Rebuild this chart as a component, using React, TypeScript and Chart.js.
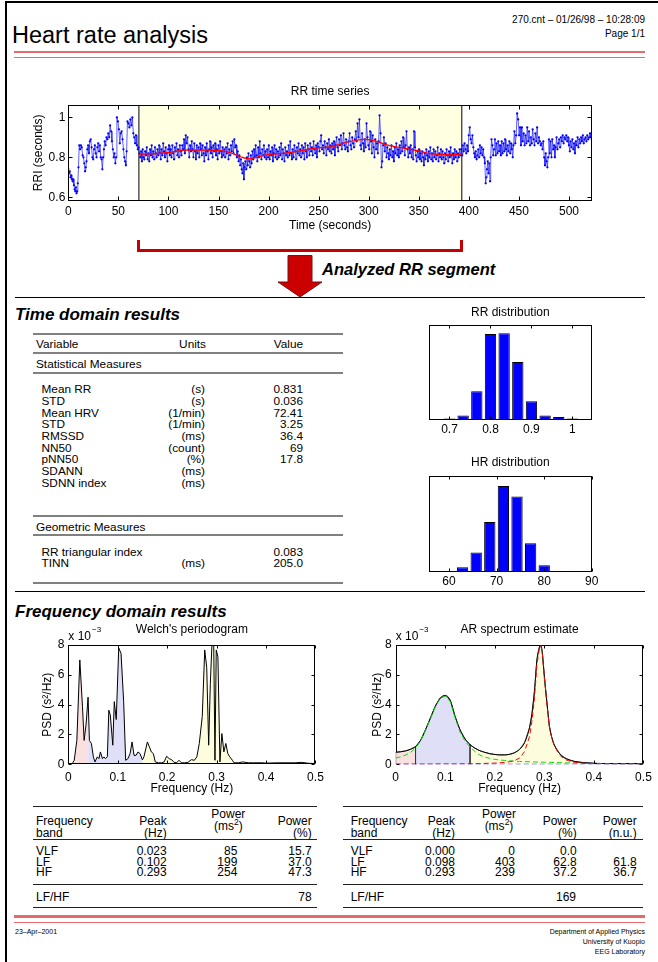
import React, { useEffect, useRef } from "react";
import { Chart, registerables } from "chart.js";
Chart.register(...registerables);

const FONT = "'Liberation Sans', Arial, Helvetica, sans-serif";
const PAGE_W = 658;
const PAGE_H = 962;

// ---------------- RR time series (RR intervals in seconds, time = cumulative sum) ----------------
const rrIntervals: number[] = [
  0.74, 0.72, 0.73, 0.70, 0.71, 0.69, 0.68, 0.69, 0.66, 0.64, 0.63, 0.65, 0.62, 0.63, 0.67,
  0.75, 0.86, 0.84, 0.86, 0.85, 0.81, 0.80, 0.77, 0.73, 0.75,
  0.78, 0.84, 0.86, 0.82, 0.88, 0.89, 0.85, 0.80, 0.79, 0.84,
  0.86, 0.82, 0.80, 0.85, 0.87, 0.83, 0.86, 0.80, 0.79, 0.74,
  0.80, 0.84, 0.88, 0.86, 0.90, 0.89, 0.92, 0.90, 0.96, 0.93,
  0.88, 0.84, 0.80, 0.82, 0.77, 0.80, 1.00, 0.98, 0.94, 0.87,
  0.92, 0.93, 0.89, 0.84, 0.80, 0.78, 0.76, 0.83, 0.98, 0.97,
  0.95, 0.99, 0.96, 1.00, 0.92, 0.90, 0.87, 0.91, 0.86, 0.84,
  // analysed segment
  0.85, 0.82, 0.80, 0.83, 0.78, 0.84, 0.80, 0.79, 0.83, 0.81, 0.85, 0.79, 0.82,
  0.78, 0.84, 0.81, 0.86, 0.80, 0.83, 0.79, 0.85, 0.82, 0.80, 0.84, 0.81, 0.86,
  0.82, 0.79, 0.84, 0.81, 0.87, 0.83, 0.80, 0.85, 0.82, 0.78, 0.84, 0.86, 0.81,
  0.84, 0.80, 0.86, 0.82, 0.79, 0.85, 0.83, 0.87, 0.81, 0.84, 0.80, 0.86, 0.83,
  0.81, 0.86, 0.84, 0.89, 0.82, 0.91, 0.87, 0.90, 0.84, 0.80, 0.86, 0.83, 0.88,
  0.84, 0.80, 0.87, 0.83, 0.79, 0.86, 0.82, 0.85, 0.80, 0.87, 0.84, 0.81, 0.86,
  0.82, 0.78, 0.85, 0.81, 0.87, 0.83, 0.79, 0.84, 0.88, 0.82, 0.85, 0.80, 0.86,
  0.83, 0.87, 0.81, 0.84, 0.79, 0.86, 0.82, 0.88, 0.83, 0.80, 0.85, 0.81, 0.84,
  0.80, 0.85, 0.82, 0.87, 0.79, 0.84, 0.81, 0.86, 0.83, 0.88, 0.82, 0.89, 0.85,
  0.86, 0.80, 0.83, 0.78, 0.81, 0.76, 0.79, 0.74, 0.72, 0.77, 0.69, 0.75, 0.78,
  0.74, 0.80, 0.76, 0.82, 0.78, 0.75, 0.81, 0.77, 0.83, 0.79, 0.84, 0.80, 0.86,
  0.81, 0.78, 0.85, 0.80, 0.88, 0.82, 0.79, 0.84, 0.81, 0.86, 0.80, 0.83, 0.79,
  0.84, 0.80, 0.86, 0.79, 0.83, 0.81, 0.85, 0.78, 0.82, 0.86, 0.80, 0.84, 0.79,
  0.83, 0.80, 0.85, 0.81, 0.87, 0.79, 0.84, 0.82, 0.78, 0.85, 0.81, 0.83, 0.80,
  0.86, 0.81, 0.88, 0.82, 0.79, 0.84, 0.80, 0.86, 0.83, 0.79, 0.85, 0.82, 0.87,
  0.81, 0.84, 0.80, 0.86, 0.82, 0.85, 0.79, 0.87, 0.83, 0.80, 0.86, 0.84, 0.81,
  0.87, 0.83, 0.85, 0.81, 0.88, 0.84, 0.82, 0.86, 0.80, 0.87, 0.85, 0.83, 0.88,
  0.91, 0.84, 0.86, 0.82, 0.88, 0.85, 0.81, 0.87, 0.84, 0.89, 0.83, 0.86, 0.82,
  0.87, 0.84, 0.88, 0.81, 0.86, 0.90, 0.85, 0.83, 0.89, 0.86, 0.91, 0.84, 0.87,
  0.92, 0.86, 0.84, 0.89, 0.85, 0.83, 0.88, 0.92, 0.86, 0.84, 0.90, 0.87, 0.85,
  0.89, 0.93, 0.88, 0.97, 0.90, 0.99, 0.86, 0.84, 0.92, 0.87, 0.83, 0.89, 0.85,
  0.97, 0.90, 0.86, 0.84, 0.93, 0.88, 0.82, 0.91, 0.85, 0.80, 0.89, 0.84, 0.87,
  0.82, 0.88, 1.01, 0.92, 0.75, 0.78, 0.86, 0.90, 0.83, 0.87, 0.80, 0.85, 0.82,
  0.79, 0.84, 0.81, 0.86, 0.80, 0.83, 0.78, 0.85, 0.82, 0.87, 0.81, 0.84, 0.80,
  0.86, 0.82, 0.88, 0.83, 0.90, 0.85, 0.81, 0.86, 0.93, 0.84, 0.80, 0.85, 0.82,
  0.86, 0.80, 0.84, 0.79, 0.93, 0.85, 0.81, 0.78, 0.83, 0.80, 0.84, 0.79, 0.82,
  0.78, 0.83, 0.80, 0.76, 0.82, 0.79, 0.84, 0.81, 0.78, 0.83, 0.80, 0.85, 0.79,
  0.82, 0.78, 0.84, 0.80, 0.83, 0.79, 0.81, 0.85, 0.78, 0.82, 0.80, 0.84, 0.79,
  0.83, 0.80, 0.77, 0.82, 0.79, 0.84, 0.81, 0.78, 0.83, 0.80, 0.85, 0.81, 0.77,
  0.82, 0.79, 0.84, 0.80, 0.83, 0.78, 0.82, 0.80, 0.84, 0.81,
  // after the segment
  0.84, 0.81, 0.86, 0.83, 0.87, 0.84, 0.82, 0.86, 0.83, 0.91, 0.95, 0.89, 0.87,
  0.91, 0.85, 0.82, 0.80, 0.83, 0.79, 0.81, 0.84, 0.80, 0.86, 0.82, 0.85, 0.81, 0.84, 0.80, 0.77, 0.67, 0.70, 0.74,
  0.78, 0.72, 0.77, 0.68, 0.80, 0.89, 0.86, 0.81, 0.84, 0.89, 0.81, 0.87, 0.82, 0.88, 0.83, 0.86, 0.81,
  0.88, 0.82, 0.87, 0.83, 0.89, 0.84, 0.81, 0.86, 0.83, 0.88, 0.82, 0.87, 0.84, 0.80, 0.86, 0.93, 0.87, 0.91, 1.02, 0.99, 0.91, 0.95, 0.86,
  0.95, 0.88, 0.92, 0.86, 0.91, 0.87, 0.95, 0.88, 0.93, 0.86, 0.90, 0.87, 0.94, 0.89, 0.86, 0.92, 0.88, 0.95, 0.87, 0.90, 0.88, 0.86,
  0.87, 0.84, 0.88, 0.80, 0.76, 0.82, 0.78, 0.75, 0.80, 0.89, 0.82, 0.88, 0.80, 0.89, 0.84, 0.86, 0.80, 0.85, 0.90, 0.84,
  0.87, 0.89, 0.85, 0.90, 0.88, 0.91, 0.87, 0.90, 0.89, 0.91, 0.88, 0.90,
  0.86, 0.83, 0.88, 0.85, 0.89, 0.84, 0.87, 0.82, 0.88, 0.86, 0.90, 0.85, 0.89, 0.87, 0.90, 0.88, 0.91, 0.87,
  0.89, 0.90, 0.88, 0.91, 0.89, 0.90, 0.92, 0.90, 0.89,
];
const segStart = 70.5;
const segEnd = 393;
const trendTime = [70.5, 81, 98, 118, 139, 152, 162, 172, 180, 188, 198, 215, 232, 245, 263, 276, 296, 306, 319, 336, 349, 363, 376, 393];
const trendRR = [0.816, 0.817, 0.823, 0.836, 0.836, 0.833, 0.823, 0.803, 0.792, 0.8, 0.812, 0.82, 0.832, 0.845, 0.853, 0.873, 0.89, 0.883, 0.861, 0.845, 0.833, 0.817, 0.813, 0.815];
const rrTimeTicks = [0, 50, 100, 150, 200, 250, 300, 350, 400, 450, 500];
const rriTicks = [0.6, 0.8, 1];
const rrTimeRange = [0, 523];
const rriRange = [0.583, 1.062];

// ---------------- distributions ----------------
const rrBinCenters = [0.7, 0.7333, 0.7667, 0.8, 0.8333, 0.8667, 0.9, 0.9333, 0.9667, 1.0];
const rrBinCounts = [2, 6, 38, 114, 115, 77, 25, 6, 4, 2];
const rrDistTicks = [0.7, 0.8, 0.9, 1];
const rrDistRange = [0.65, 1.047];
const rrDistMax = 126;
const hrBinCenters = [60.0, 62.86, 65.72, 68.58, 71.44, 74.3, 77.16, 80.02, 82.88, 85.74];
const hrBinCounts = [2, 7, 28, 71, 122, 107, 41, 10, 1, 2];
const hrDistTicks = [60, 70, 80, 90];
const hrDistRange = [55.8, 90];
const hrDistMax = 136;

// ---------------- spectra (PSD in 1e-3 s^2/Hz) ----------------
const welchFreq = [0, 0.004, 0.008, 0.012, 0.0173, 0.0233, 0.0287, 0.032, 0.036, 0.04, 0.0427, 0.0467, 0.0507, 0.054, 0.0587, 0.062, 0.065, 0.069, 0.072, 0.075, 0.079, 0.082, 0.085, 0.09, 0.093, 0.097, 0.102, 0.1067, 0.112, 0.116, 0.1207, 0.125, 0.129, 0.133, 0.137, 0.141, 0.145, 0.15, 0.153, 0.16, 0.164, 0.168, 0.172, 0.176, 0.182, 0.189, 0.194, 0.199, 0.204, 0.209, 0.214, 0.219, 0.224, 0.229, 0.235, 0.242, 0.249, 0.255, 0.26, 0.265, 0.271, 0.276, 0.28, 0.284, 0.2873, 0.2913, 0.294, 0.2967, 0.2993, 0.3027, 0.3067, 0.3107, 0.3147, 0.3187, 0.3227, 0.3267, 0.332, 0.3353, 0.345, 0.352, 0.365, 0.375, 0.392, 0.4, 0.425, 0.459, 0.472, 0.485, 0.5];
const welchPSD = [0, 0.02, 0.05, 0.27, 1.6, 7.0, 3.86, 1.6, 2.7, 4.5, 1.6, 1.4, 0.5, 0.16, 0.5, 0.38, 0.83, 0.38, 0.5, 0.38, 0.5, 3.63, 3.3, 1.28, 4.2, 3.0, 7.8, 7.44, 4.2, 0.27, 0.38, 0.72, 1.5, 0.6, 0.6, 0.83, 0.72, 0.3, 0.5, 1.5, 1.17, 0.83, 0.72, 0.16, 0.1, 0.1, 0.16, 0.54, 0.38, 0.31, 0.13, 0.1, 0.27, 0.1, 0.1, 0.13, 0.31, 0.27, 0.5, 1.4, 3.2, 7.67, 6.5, 1.28, 5.4, 8.6, 8.6, 0.27, 7.67, 7.2, 0.16, 2.06, 0.83, 1.4, 0.72, 0.5, 0.27, 0.1, 0.1, 0.16, 0.1, 0.1, 0.1, 0.08, 0.1, 0.1, 0.13, 0.07, 0.05];
const arFreq = [0, 0.01, 0.02, 0.03, 0.04, 0.05, 0.06, 0.07, 0.08, 0.09, 0.1, 0.11, 0.12, 0.13, 0.14, 0.15, 0.16, 0.17, 0.18, 0.19, 0.2, 0.21, 0.22, 0.23, 0.24, 0.25, 0.26, 0.27, 0.275, 0.28, 0.285, 0.29, 0.293, 0.296, 0.3, 0.305, 0.31, 0.315, 0.32, 0.33, 0.34, 0.35, 0.36, 0.38, 0.4, 0.43, 0.46, 0.5];
const arTotal = [0.81, 0.84, 0.9, 1.01, 1.19, 1.6, 2.3, 3.1, 3.9, 4.45, 4.62, 4.3, 3.2, 2.3, 1.7, 1.32, 1.08, 0.91, 0.8, 0.71, 0.66, 0.63, 0.63, 0.67, 0.78, 1.0, 1.45, 2.45, 3.4, 4.9, 7.0, 7.85, 8.0, 7.45, 5.9, 4.2, 2.6, 1.8, 1.3, 0.75, 0.45, 0.3, 0.2, 0.11, 0.07, 0.04, 0.03, 0.02];
const arVLF = [0, 0, 0, 0, 0, 0, 0, 0, 0, 0, 0, 0, 0, 0, 0, 0, 0, 0, 0, 0, 0, 0, 0, 0, 0, 0, 0, 0, 0, 0, 0, 0, 0, 0, 0, 0, 0, 0, 0, 0, 0, 0, 0, 0, 0, 0, 0, 0];
const arLF = [0.42, 0.5, 0.62, 0.8, 1.08, 1.55, 2.25, 3.05, 3.85, 4.42, 4.58, 4.2, 3.1, 2.15, 1.55, 1.15, 0.85, 0.62, 0.48, 0.4, 0.33, 0.29, 0.26, 0.23, 0.21, 0.19, 0.18, 0.17, 0.16, 0.16, 0.15, 0.15, 0.15, 0.14, 0.14, 0.13, 0.13, 0.12, 0.12, 0.11, 0.1, 0.09, 0.08, 0.06, 0.05, 0.04, 0.03, 0.02];
const arHF = [0.01, 0.01, 0.01, 0.01, 0.01, 0.01, 0.01, 0.01, 0.02, 0.02, 0.02, 0.02, 0.02, 0.03, 0.03, 0.03, 0.04, 0.05, 0.06, 0.07, 0.08, 0.1, 0.13, 0.17, 0.25, 0.42, 0.85, 1.85, 2.9, 4.4, 6.7, 7.75, 7.95, 7.4, 5.8, 4.1, 2.55, 1.75, 1.25, 0.65, 0.35, 0.22, 0.14, 0.07, 0.04, 0.02, 0.01, 0.01];
const bandEdges = [0, 0.04, 0.15, 0.4];
const freqTicks = [0, 0.1, 0.2, 0.3, 0.4, 0.5];
const psdTicks = [0, 2, 4, 6, 8];
const freqRange = [0, 0.5];
const psdRange = [0, 8];

// ---------------- tables ----------------
const statRows = [
  ["Mean RR", "(s)", "0.831"],
  ["STD", "(s)", "0.036"],
  ["Mean HRV", "(1/min)", "72.41"],
  ["STD", "(1/min)", "3.25"],
  ["RMSSD", "(ms)", "36.4"],
  ["NN50", "(count)", "69"],
  ["pNN50", "(%)", "17.8"],
  ["SDANN", "(ms)", ""],
  ["SDNN index", "(ms)", ""],
];
const geoRows = [
  ["RR triangular index", "", "0.083"],
  ["TINN", "(ms)", "205.0"],
];
const bandNames = ["VLF", "LF", "HF"];
const welchPeak = ["0.023", "0.102", "0.293"];
const welchPower = ["85", "199", "254"];
const welchPct = ["15.7", "37.0", "47.3"];
const welchLFHF = "78";
const arPeak = ["0.000", "0.098", "0.293"];
const arPower = ["0", "403", "239"];
const arPct = ["0.0", "62.8", "37.2"];
const arNU = ["", "61.8", "36.7"];
const arLFHF = "169";

// ---------------- helpers ----------------
type Pt = { x: number; y: number };
const zip = (xs: number[], ys: number[]): Pt[] => xs.map((x, i) => ({ x, y: ys[i] }));
const inBand = (pts: Pt[], lo: number, hi: number) => pts.filter((p) => p.x >= lo - 1e-9 && p.x <= hi + 1e-9);
const rrPoints = (): Pt[] => {
  let t = 0;
  return rrIntervals.map((v) => {
    const p = { x: t, y: v };
    t += v;
    return p;
  });
};

const matlabAxes = {
  id: "matlabAxes",
  beforeDatasetsDraw(chart: any, _a: any, o: any) {
    if (o.under) drawBox(chart, o);
  },
  afterDatasetsDraw(chart: any, _a: any, o: any) {
    if (!o.under) drawBox(chart, o);
    const { ctx, chartArea: a } = chart;
    ctx.save();
    ctx.fillStyle = "#000";
    if (o.title) {
      ctx.font = `12px ${FONT}`;
      ctx.textAlign = "center";
      ctx.textBaseline = "middle";
      ctx.fillText(o.title, (a.left + a.right) / 2, a.top - o.titleGap);
    }
    if (o.exponent) {
      ctx.font = `12px ${FONT}`;
      ctx.textAlign = "left";
      ctx.textBaseline = "middle";
      ctx.fillText("x 10", a.left, a.top - 8);
      const w = ctx.measureText("x 10").width;
      ctx.font = `8px ${FONT}`;
      ctx.fillText("\u22123", a.left + w + 1, a.top - 15);
    }
    ctx.restore();
  },
};
function drawBox(chart: any, o: any) {
  const { ctx, chartArea: a, scales } = chart;
  ctx.save();
  ctx.strokeStyle = "#000";
  ctx.lineWidth = 1;
  const L = Math.round(a.left) + 0.5;
  const R = Math.round(a.right) - 0.5;
  const T = Math.round(a.top) + 0.5;
  const B = Math.round(a.bottom) - 0.5;
  const tl = o.tickLen ?? 3;
  ctx.beginPath();
  for (const t of scales.x.ticks) {
    const p = Math.round(scales.x.getPixelForValue(t.value)) + 0.5;
    ctx.moveTo(p, B);
    ctx.lineTo(p, B - tl);
    ctx.moveTo(p, T);
    ctx.lineTo(p, T + tl);
  }
  if (o.yTicks) {
    for (const t of scales.y.ticks) {
      const p = Math.round(scales.y.getPixelForValue(t.value)) + 0.5;
      ctx.moveTo(L, p);
      ctx.lineTo(L + tl, p);
      ctx.moveTo(R, p);
      ctx.lineTo(R - tl, p);
    }
  }
  ctx.stroke();
  ctx.strokeRect(L, T, R - L, B - T);
  ctx.restore();
}

function axis(o: {
  range: number[];
  ticks: number[];
  size: number;
  pad: number;
  display?: boolean;
  title?: string;
  titlePad?: any;
}) {
  return {
    type: "linear",
    min: o.range[0],
    max: o.range[1],
    display: o.display ?? true,
    offset: false,
    grid: { display: false, drawTicks: false },
    border: { display: false },
    ticks: {
      font: { family: FONT, size: 12 },
      color: "#000",
      padding: o.pad,
      autoSkip: false,
      maxRotation: 0,
      callback: (v: number) => String(v),
    },
    title: o.title
      ? { display: true, text: o.title, color: "#000", font: { family: FONT, size: 12 }, padding: o.titlePad }
      : { display: false },
    afterBuildTicks: (s: any) => {
      s.ticks = o.ticks.map((v) => ({ value: v }));
    },
    afterFit: (s: any) => {
      if (s.isHorizontal()) s.height = o.size;
      else s.width = o.size;
    },
  };
}

const baseOptions = (padding: any, scales: any, box: any) => ({
  animation: false,
  responsive: false,
  events: [],
  layout: { padding },
  plugins: { legend: { display: false }, tooltip: { enabled: false }, matlabAxes: box },
  scales,
});

// ---------------- chart configs ----------------
function rrSeriesConfig() {
  const [y0, y1] = rriRange;
  return {
    type: "line",
    data: {
      datasets: [
        { data: [{ x: segStart, y: y1 }, { x: segEnd, y: y1 }], fill: "start", backgroundColor: "#ffffe1", borderWidth: 0, pointRadius: 0, order: 9 },
        { data: [{ x: segStart, y: y0 }, { x: segStart, y: y1 }], borderColor: "#000", borderWidth: 1, pointRadius: 0, order: 5 },
        { data: [{ x: segEnd, y: y0 }, { x: segEnd, y: y1 }], borderColor: "#000", borderWidth: 1, pointRadius: 0, order: 5 },
        { data: rrPoints(), borderColor: "#1a1aff", borderWidth: 0.7, pointRadius: 1.15, pointBackgroundColor: "#0000ff", pointBorderWidth: 0, order: 2 },
        { data: zip(trendTime, trendRR), borderColor: "#ff0000", borderWidth: 1.3, pointRadius: 0, cubicInterpolationMode: "monotone", order: 1 },
      ],
    },
    options: baseOptions(
      { left: 0, top: 25, right: 28, bottom: 0 },
      {
        x: axis({ range: rrTimeRange, ticks: rrTimeTicks, size: 39.3, pad: 3.8, title: "Time (seconds)", titlePad: { top: 0, bottom: 7.1 } }),
        y: axis({ range: rriRange, ticks: rriTicks, size: 48.3, pad: 3, title: "RRI (seconds)", titlePad: { top: 11.8, bottom: 0 } }),
      },
      { title: "RR time series", titleGap: 13, tickLen: 4, yTicks: true }
    ),
  };
}

function histConfig(centers: number[], counts: number[], range: number[], ticks: number[], yMax: number, title: string, titleGap: number, xSize: number, pad: number, topPad: number) {
  return {
    type: "bar",
    data: {
      datasets: [
        {
          data: zip(centers, counts),
          backgroundColor: "#0000ff",
          borderColor: "#000",
          borderWidth: 1,
          categoryPercentage: 0.83,
          barPercentage: 1,
        },
      ],
    },
    options: baseOptions(
      { left: 29, top: topPad, right: 38.3, bottom: 0 },
      {
        x: axis({ range, ticks, size: xSize, pad }),
        y: { ...axis({ range: [0, yMax], ticks: [], size: 0, pad: 0, display: false }) },
      },
      { title, titleGap, tickLen: 3, yTicks: false }
    ),
  };
}

function welchConfig() {
  const pts = zip(welchFreq, welchPSD);
  const fillDs = (lo: number, hi: number, color: string) => ({
    data: inBand(pts, lo, hi), fill: "origin", backgroundColor: color, borderWidth: 0, pointRadius: 0, order: 5,
  });
  return {
    type: "line",
    data: {
      datasets: [
        fillDs(bandEdges[0], bandEdges[1], "#fbe0e0"),
        fillDs(bandEdges[1], bandEdges[2], "#dfdff8"),
        fillDs(bandEdges[2], bandEdges[3], "#fdfddd"),
        { data: pts, borderColor: "#000", borderWidth: 1, pointRadius: 0, order: 1 },
      ],
    },
    options: baseOptions(
      { left: 0, top: 45, right: 12, bottom: 0 },
      {
        x: axis({ range: freqRange, ticks: freqTicks, size: 35.7, pad: 6.2, title: "Frequency (Hz)", titlePad: { top: 0, bottom: 3.8 } }),
        y: axis({ range: psdRange, ticks: psdTicks, size: 68.3, pad: 4, title: "PSD (s\u00b2/Hz)", titlePad: { top: 40.5, bottom: 0 } }),
      },
      { title: "Welch's periodogram", titleGap: 15, tickLen: 3, yTicks: true, exponent: true }
    ),
  };
}

function arConfig() {
  const pts = zip(arFreq, arTotal);
  const fillDs = (lo: number, hi: number, color: string) => ({
    data: [{ x: lo, y: 0 }, ...inBand(pts, lo, hi), { x: hi, y: 0 }],
    fill: "origin", backgroundColor: color, borderColor: "#333", borderWidth: 0.8, pointRadius: 0, order: 6,
  });
  const dash = (ys: number[], color: string, order: number) => ({
    data: zip(arFreq, ys), borderColor: color, borderWidth: 1, borderDash: [5, 3], pointRadius: 0, order,
  });
  return {
    type: "line",
    data: {
      datasets: [
        fillDs(bandEdges[0], bandEdges[1], "#fbe0e0"),
        fillDs(bandEdges[1], bandEdges[2], "#dfdff8"),
        fillDs(bandEdges[2], bandEdges[3], "#fdfddd"),
        { data: pts, borderColor: "#000", borderWidth: 1, pointRadius: 0, cubicInterpolationMode: "monotone", order: 4 },
        dash(arVLF, "#0000ff", 3),
        dash(arLF, "#00e000", 2),
        dash(arHF, "#ff0000", 1),
      ],
    },
    options: baseOptions(
      { left: 0, top: 45, right: 13.7, bottom: 0 },
      {
        x: axis({ range: freqRange, ticks: freqTicks, size: 35.7, pad: 6.2, title: "Frequency (Hz)", titlePad: { top: 0, bottom: 3.8 } }),
        y: axis({ range: psdRange, ticks: psdTicks, size: 65.7, pad: 4, title: "PSD (s\u00b2/Hz)", titlePad: { top: 40.5, bottom: 0 } }),
      },
      { title: "AR spectrum estimate", titleGap: 15, tickLen: 3, yTicks: true, exponent: true, under: true }
    ),
  };
}

// ---------------- components ----------------
function ChartBox({ left, top, width, height, make }: { left: number; top: number; width: number; height: number; make: () => any }) {
  const ref = useRef<HTMLCanvasElement>(null);
  useEffect(() => {
    const chart = new Chart(ref.current as HTMLCanvasElement, { ...make(), plugins: [matlabAxes] } as any);
    return () => chart.destroy();
  }, []);
  return (
    <div style={{ position: "absolute", left, top, width, height }}>
      <canvas ref={ref} width={width} height={height} style={{ display: "block" }} />
    </div>
  );
}

function T({ x, y, s = 12, a = "l", b, i, children }: { x: number; y: number; s?: number; a?: "l" | "r" | "c"; b?: boolean; i?: boolean; children: React.ReactNode }) {
  const lh = Math.round(s * 1.2);
  const st: React.CSSProperties = {
    position: "absolute",
    top: y - lh / 2,
    lineHeight: lh + "px",
    fontSize: s,
    fontWeight: b ? "bold" : "normal",
    fontStyle: i ? "italic" : "normal",
    whiteSpace: "nowrap",
    color: "#000",
  };
  if (a === "l") st.left = x;
  else if (a === "r") st.right = PAGE_W - x;
  else {
    st.left = x - 150;
    st.width = 300;
    st.textAlign = "center";
  }
  return <div style={st}>{children}</div>;
}

function Rule({ x, y, w, h = 1, c = "#000" }: { x: number; y: number; w: number; h?: number; c?: string }) {
  return <div style={{ position: "absolute", left: x, top: y - h / 2, width: w, height: h, background: c }} />;
}

const Ms2 = () => (
  <span>
    (ms<span style={{ fontSize: 8.5, verticalAlign: "5px", lineHeight: 0 }}>2</span>)
  </span>
);

function FreqTable({ x0, x1, cols, peak, power, pct, nu, lfhf, lfhfX }: { x0: number; x1: number; cols: number[]; peak: string[]; power: string[]; pct: string[]; nu?: string[]; lfhf: string; lfhfX: number }) {
  const [cLab, cPeak, cPowC, cPowR, cPct, cNu] = cols;
  const rowsY = [851, 861.5, 872];
  const fs = 12;
  return (
    <>
      <Rule x={x0} y={806.7} w={x1 - x0} h={1.5} c="#222" />
      <T x={cLab} y={820.7} s={fs}>Frequency</T>
      <T x={cLab} y={833.3} s={fs}>band</T>
      <T x={cPeak} y={820.7} s={fs} a="r">Peak</T>
      <T x={cPeak} y={833.3} s={fs} a="r">(Hz)</T>
      <T x={cPowC} y={814.3} s={fs} a="c">Power</T>
      <T x={cPowC} y={826} s={fs} a="c"><Ms2 /></T>
      <T x={cPct} y={820.7} s={fs} a="r">Power</T>
      <T x={cPct} y={833.3} s={fs} a="r">(%)</T>
      {nu && <T x={cNu} y={820.7} s={fs} a="r">Power</T>}
      {nu && <T x={cNu} y={833.3} s={fs} a="r">(n.u.)</T>}
      <Rule x={x0} y={839.5} w={x1 - x0} h={1.2} c="#222" />
      {bandNames.map((n, k) => (
        <React.Fragment key={n}>
          <T x={cLab} y={rowsY[k]} s={fs}>{n}</T>
          <T x={cPeak} y={rowsY[k]} s={fs} a="r">{peak[k]}</T>
          <T x={cPowR} y={rowsY[k]} s={fs} a="r">{power[k]}</T>
          <T x={cPct} y={rowsY[k]} s={fs} a="r">{pct[k]}</T>
          {nu && <T x={cNu} y={rowsY[k]} s={fs} a="r">{nu[k]}</T>}
        </React.Fragment>
      ))}
      <Rule x={x0} y={884.3} w={x1 - x0} h={1.2} c="#222" />
      <T x={cLab} y={896.7} s={fs}>LF/HF</T>
      <T x={lfhfX} y={896.7} s={fs} a="r">{lfhf}</T>
      <Rule x={x0} y={907.7} w={x1 - x0} h={1.5} c="#222" />
    </>
  );
}

export default function App() {
  const red = "#e36b6b";
  const gray = "#808080";
  const tdFs = 11.8;
  return (
    <div style={{ position: "absolute", left: 0, top: 0, width: PAGE_W, height: PAGE_H, background: "#fff", overflow: "hidden", fontFamily: FONT }}>
      {/* page frame */}
      <div style={{ position: "absolute", left: 5, top: 1, width: 2, height: PAGE_H, background: "#000" }} />
      <div style={{ position: "absolute", left: 5, top: 1, width: PAGE_W, height: 2, background: "#000" }} />

      {/* header */}
      <T x={12} y={35} s={23.5}>Heart rate analysis</T>
      <T x={645} y={20} s={10} a="r">270.cnt – 01/26/98 – 10:28:09</T>
      <T x={645} y={34} s={10} a="r">Page 1/1</T>
      <Rule x={14} y={52} w={631} h={2} c={red} />
      <Rule x={14} y={57.5} w={631} h={1.5} c={red} />

      {/* RR time series */}
      <ChartBox left={20} top={80} width={600} height={160} make={rrSeriesConfig} />

      {/* analyzed segment bracket + arrow */}
      <div style={{ position: "absolute", left: 137, top: 248.5, width: 326, height: 3, background: "#c40000" }} />
      <div style={{ position: "absolute", left: 137, top: 240, width: 3, height: 11, background: "#c40000" }} />
      <div style={{ position: "absolute", left: 460, top: 240, width: 3, height: 11, background: "#c40000" }} />
      <svg style={{ position: "absolute", left: 276, top: 254 }} width={48} height={45}>
        <polygon points="12,1.5 36,1.5 36,28 46,28 24,43 2,28 12,28" fill="#cc0000" stroke="#7a1010" strokeWidth={1} />
      </svg>
      <T x={322} y={269} s={16.5} b i>Analyzed RR segment</T>
      <Rule x={15} y={297} w={630} h={1} />

      {/* time domain */}
      <T x={15} y={315} s={17} b i>Time domain results</T>
      <Rule x={33} y={334.3} w={310} h={2} c={gray} />
      <T x={36} y={343.5} s={tdFs}>Variable</T>
      <T x={206} y={343.5} s={tdFs} a="r">Units</T>
      <T x={303} y={343.5} s={tdFs} a="r">Value</T>
      <Rule x={33} y={353.3} w={310} h={2} c={gray} />
      <T x={36} y={364.3} s={tdFs}>Statistical Measures</T>
      <Rule x={33} y={372.7} w={310} h={2} c={gray} />
      {statRows.map((r, k) => (
        <React.Fragment key={"s" + k}>
          <T x={41.5} y={389.3 + k * 11.67} s={tdFs}>{r[0]}</T>
          <T x={205} y={389.3 + k * 11.67} s={tdFs} a="r">{r[1]}</T>
          <T x={303} y={389.3 + k * 11.67} s={tdFs} a="r">{r[2]}</T>
        </React.Fragment>
      ))}
      <Rule x={33} y={516} w={310} h={2} c={gray} />
      <T x={36} y={526.7} s={tdFs}>Geometric Measures</T>
      <Rule x={33} y={535} w={310} h={2} c={gray} />
      {geoRows.map((r, k) => (
        <React.Fragment key={"g" + k}>
          <T x={41.5} y={551.7 + k * 11.67} s={tdFs}>{r[0]}</T>
          <T x={205} y={551.7 + k * 11.67} s={tdFs} a="r">{r[1]}</T>
          <T x={303} y={551.7 + k * 11.67} s={tdFs} a="r">{r[2]}</T>
        </React.Fragment>
      ))}
      <Rule x={33} y={582.7} w={310} h={2} c={gray} />

      <ChartBox left={400} top={300} width={230} height={145}
        make={() => histConfig(rrBinCenters, rrBinCounts, rrDistRange, rrDistTicks, rrDistMax, "RR distribution", 12.3, 25, 2.3, 25)} />
      <ChartBox left={400} top={450} width={230} height={140}
        make={() => histConfig(hrBinCenters, hrBinCounts, hrDistRange, hrDistTicks, hrDistMax, "HR distribution", 13.7, 17.7, 2.3, 26)} />

      <Rule x={15} y={591.7} w={630} h={1} />

      {/* frequency domain */}
      <T x={15} y={611.7} s={17} b i>Frequency domain results</T>
      <ChartBox left={0} top={600} width={330} height={200} make={welchConfig} />
      <ChartBox left={330} top={600} width={328} height={200} make={arConfig} />

      <FreqTable x0={33.3} x1={316.7} cols={[36, 166.7, 228.3, 237.3, 311.7]} peak={welchPeak} power={welchPower} pct={welchPct} lfhf={welchLFHF} lfhfX={311.7} />
      <FreqTable x0={343.3} x1={643.3} cols={[350.7, 455, 499, 515, 576.7, 636.7]} peak={arPeak} power={arPower} pct={arPct} nu={arNU} lfhf={arLFHF} lfhfX={576} />

      {/* footer */}
      <Rule x={14} y={916.5} w={631} h={2.5} c={red} />
      <Rule x={14} y={922.3} w={631} h={1.5} c={red} />
      <T x={15} y={931.5} s={7}>23–Apr–2001</T>
      <T x={645} y={931.5} s={7} a="r">Department of Applied Physics</T>
      <T x={645} y={941.5} s={7} a="r">University of Kuopio</T>
      <T x={645} y={951.5} s={7} a="r">EEG Laboratory</T>
    </div>
  );
}
